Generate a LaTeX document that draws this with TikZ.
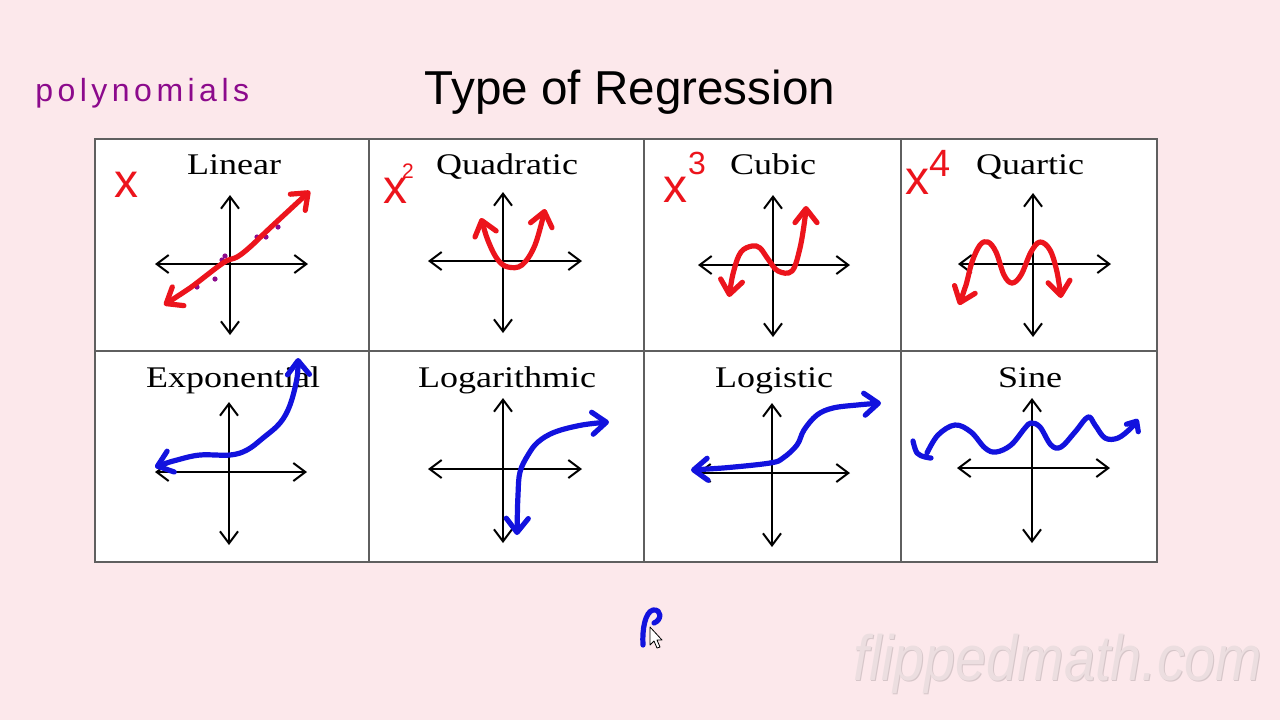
\documentclass[tikz,border=0pt]{standalone}
\usepackage{fontspec}
\setmainfont{Liberation Serif}
\newfontfamily\sansf{Liberation Sans}
\newfontfamily\handf[LetterSpace=14]{Liberation Sans}
\usetikzlibrary{arrows.meta}
\definecolor{bg}{RGB}{252,232,235}
\definecolor{penred}{RGB}{236,20,28}
\definecolor{penblue}{RGB}{18,18,222}
\definecolor{penpurple}{RGB}{140,10,140}
\definecolor{gridc}{RGB}{95,95,95}
\definecolor{wm}{RGB}{236,222,224}
\definecolor{wmshadow}{RGB}{214,198,201}
\begin{document}
\begin{tikzpicture}[x=0.5pt,y=-0.5pt,
  axis/.style={line width=1pt, black, {Straight Barb[length=6pt,width=9pt]}-{Straight Barb[length=6pt,width=9pt]}},
  redpen/.style={line width=2.6pt, penred, line cap=round, line join=round},
  bluepen/.style={line width=2.6pt, penblue, line cap=round, line join=round},
  hand/.tip={Straight Barb[length=7pt,width=11pt,round]},
  celllabel/.style={font=\fontsize{15}{15}\selectfont, anchor=base, xscale=1.2, transform shape, inner sep=0pt},
  redx/.style={font=\sansf\fontsize{24}{24}\selectfont, text=penred, anchor=base, inner sep=0pt},
  gridline/.style={line width=0.9pt, gridc}
]
% background
\fill[bg] (0,0) rectangle (1280,720);
\useasboundingbox (0,0) rectangle (1280,720);

% title
\node[font=\sansf\fontsize{23.8}{24}\selectfont, anchor=base, inner sep=0pt] (title) at (630,104) {Type of Regression};

% handwritten note
\node[font=\handf\fontsize{16}{16}\selectfont, text=penpurple, anchor=base west, inner sep=0pt] (poly) at (35,101) {polynomials};

% table
\fill[white] (95,139) rectangle (1157,562);
\draw[gridline] (95,139) rectangle (1157,562);
\draw[gridline] (369,139) -- (369,562);
\draw[gridline] (644,139) -- (644,562);
\draw[gridline] (901,139) -- (901,562);
\draw[gridline] (95,351) -- (1157,351);

% labels
\node[celllabel] (lin) at (234,174) {Linear};
\node[celllabel] (quad) at (507,174) {Quadratic};
\node[celllabel] (cub) at (773,174) {Cubic};
\node[celllabel] (quar) at (1030,174) {Quartic};
\node[celllabel] (expo) at (233,387) {Exponential};
\node[celllabel] (loga) at (507,387) {Logarithmic};
\node[celllabel] (logi) at (774,387) {Logistic};
\node[celllabel] (sine) at (1030,387) {Sine};

% axes row 1
\draw[axis] (155,264) -- (308,264);
\draw[axis] (230,195) -- (230,335);
\draw[axis] (428,261) -- (582,261);
\draw[axis] (503,192) -- (503,333);
\draw[axis] (698,265) -- (850,265);
\draw[axis] (773,195) -- (773,337);
\draw[axis] (958,264) -- (1111,264);
\draw[axis] (1033,193) -- (1033,337);
% axes row 2
\draw[axis] (155,472) -- (307,472);
\draw[axis] (229,402) -- (229,545);
\draw[axis] (428,469) -- (582,469);
\draw[axis] (503,398) -- (503,543);
\draw[axis] (697,473) -- (850,473);
\draw[axis] (772,403) -- (772,547);
\draw[axis] (957,468) -- (1110,468);
\draw[axis] (1032,398) -- (1032,543);

% red x labels
\node[redx] (x1) at (126,197) {x};
\node[redx] (x2) at (395,203) {x};
\node[redx, font=\sansf\fontsize{10.5}{11}\selectfont] (e2) at (408,178) {2};
\node[redx] (x3) at (675,202) {x};
\node[redx, font=\sansf\fontsize{16}{16}\selectfont] (e3) at (697,174) {3};
\node[redx] (x4) at (917,194) {x};
\node[redx, font=\sansf\fontsize{19}{19}\selectfont] (e4) at (940,176) {4};

% purple data points (linear)
\foreach \p in {(197,287),(215,279),(222,260),(225,256),(257,237),(266,237),(278,227),(250,247)}
  \fill[penpurple] \p circle[radius=1.3pt];

% red curves
\draw[redpen, hand-hand] plot[smooth, tension=0.6] coordinates {(164,305) (190,288) (223,263) (237,257) (250,247) (270,228) (310,191)};
\draw[redpen, hand-hand] plot[smooth, tension=0.6] coordinates {(481,218) (489,243) (498,260) (508,267) (522,265) (535,245) (545,209)};
\draw[redpen, hand-hand] plot[smooth, tension=0.6] coordinates {(729,297) (734,270) (741,252) (752,246) (760,248) (768,259) (778,271) (792,271) (800,248) (805,218) (806,206)};
\draw[redpen, hand-hand] plot[smooth, tension=0.6] coordinates {(959,305) (966,285) (972,262) (980,245) (988,242) (996,252) (1004,275) (1012,283) (1021,275) (1031,252) (1040,242) (1050,250) (1057,272) (1061,298)};

% blue curves
\draw[bluepen, hand-hand] plot[smooth, tension=0.6] coordinates {(155,467) (177,460) (200,455) (230,455) (247,450) (263,438) (280,423) (290,405) (297,378) (298,358)};
\draw[bluepen, hand-hand] plot[smooth, tension=0.6] coordinates {(517,535) (518,495) (520,472) (528,455) (538,442) (555,432) (582,425) (609,422)};
\draw[bluepen, hand-hand] plot[smooth, tension=0.6] coordinates {(691,470) (723,468) (770,463) (783,458) (797,445) (804,430) (817,415) (833,408) (857,405) (881,403)};
\draw[bluepen, -{Straight Barb[length=4pt,width=7pt,round]}] plot[smooth, tension=0.6] coordinates {(927,453) (938,435) (955,425) (971,432) (985,448) (996,452) (1011,445) (1025,428) (1031,423) (1040,427) (1051,445) (1061,447) (1075,432) (1088,417) (1095,425) (1105,438) (1118,438) (1131,428) (1138,419)};
\draw[bluepen] plot[smooth, tension=0.6] coordinates {(913,441) (917,453) (925,457) (931,458)};

% blue mark and cursor
\draw[bluepen] (643,645) .. controls (642,630) and (645,612) .. (653,610) .. controls (662,609) and (662,620) .. (654,623);
\draw[black, fill=white, line width=0.4pt, line join=round] (650,627) -- (650,645) -- (654,641) -- (657,648) -- (660,647) -- (657,640) -- (662,640) -- cycle;

% watermark
\node[font=\sansf\itshape\fontsize{32}{32}\selectfont, text=wmshadow, xscale=0.87, transform shape, anchor=base, inner sep=0pt] (wms) at (1059,681) {flippedmath.com};
\node[font=\sansf\itshape\fontsize{32}{32}\selectfont, text=wm, xscale=0.87, transform shape, anchor=base, inner sep=0pt] (wmk) at (1058,680) {flippedmath.com};
\end{tikzpicture}
\end{document}
